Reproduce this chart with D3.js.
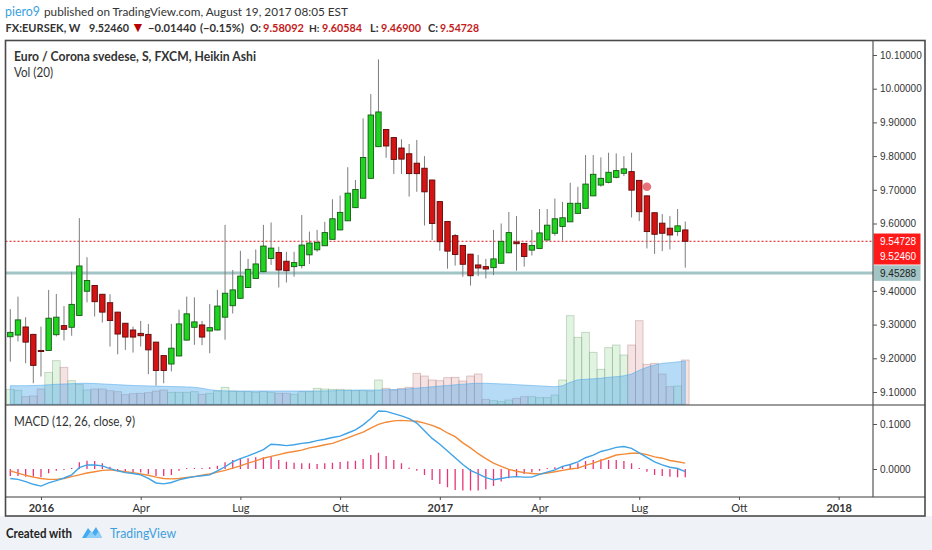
<!DOCTYPE html>
<html lang="en">
<head>
<meta charset="utf-8">
<title>FX:EURSEK weekly Heikin Ashi</title>
<script src="https://cdnjs.cloudflare.com/ajax/libs/d3/7.8.5/d3.min.js"></script>
<style>
  body { margin: 0; background: #fff; }
  svg { display: block; }
</style>
</head>
<body>
<script>
// weekly Heikin Ashi bars, Dec 7 2015 .. Aug 14 2017 (index 0..88)
var haOpen = [9.264,9.269,9.293,9.271,9.223,9.223,9.270,9.297,9.292,9.327,
  9.399,9.416,9.390,9.365,9.337,9.304,9.284,9.274,9.271,9.248,
  9.208,9.183,9.207,9.254,9.292,9.299,9.281,9.284,9.322,9.356,
  9.378,9.410,9.437,9.457,9.496,9.514,9.488,9.472,9.475,9.507,
  9.522,9.534,9.553,9.581,9.608,9.647,9.675,9.734,9.828,9.879,
  9.855,9.824,9.807,9.779,9.764,9.729,9.665,9.606,9.564,9.535,
  9.509,9.477,9.472,9.469,9.482,9.513,9.545,9.541,9.521,9.526,
  9.551,9.571,9.591,9.605,9.630,9.645,9.682,9.714,9.722,9.737,
  9.749,9.754,9.728,9.682,9.632,9.601,9.586,9.576,9.58092];
var haHigh = [9.346,9.383,9.322,9.273,9.294,9.403,9.391,9.355,9.457,9.616,
  9.500,9.417,9.391,9.390,9.338,9.305,9.294,9.311,9.302,9.249,
  9.209,9.302,9.344,9.383,9.381,9.311,9.361,9.403,9.596,9.462,
  9.519,9.495,9.523,9.596,9.603,9.531,9.516,9.516,9.625,9.576,
  9.581,9.605,9.672,9.683,9.767,9.729,9.912,9.984,10.087,9.880,
  9.856,9.850,9.836,9.848,9.800,9.730,9.666,9.607,9.569,9.536,
  9.510,9.507,9.495,9.581,9.600,9.634,9.622,9.542,9.581,9.643,
  9.643,9.674,9.664,9.721,9.709,9.803,9.803,9.796,9.810,9.808,
  9.800,9.810,9.729,9.683,9.633,9.628,9.622,9.643,9.60584];
var haLow = [9.190,9.250,9.185,9.126,9.146,9.222,9.265,9.253,9.267,9.326,
  9.366,9.324,9.306,9.235,9.212,9.225,9.217,9.235,9.153,9.119,
  9.126,9.161,9.206,9.253,9.240,9.239,9.215,9.283,9.255,9.333,
  9.377,9.409,9.436,9.456,9.477,9.410,9.425,9.442,9.467,9.480,
  9.516,9.533,9.552,9.580,9.607,9.646,9.674,9.733,9.827,9.795,
  9.747,9.747,9.680,9.694,9.594,9.551,9.519,9.466,9.475,9.442,
  9.416,9.444,9.437,9.447,9.481,9.512,9.460,9.472,9.505,9.525,
  9.550,9.564,9.549,9.604,9.629,9.644,9.681,9.709,9.719,9.734,
  9.741,9.618,9.607,9.526,9.510,9.518,9.523,9.563,9.46900];
var haClose = [9.277,9.314,9.248,9.179,9.220,9.319,9.322,9.286,9.360,9.474,
  9.431,9.368,9.337,9.312,9.272,9.263,9.263,9.267,9.225,9.164,
  9.164,9.230,9.302,9.332,9.308,9.263,9.291,9.355,9.393,9.403,
  9.444,9.464,9.480,9.533,9.527,9.462,9.460,9.484,9.536,9.542,
  9.544,9.573,9.614,9.633,9.690,9.701,9.796,9.922,9.931,9.830,
  9.790,9.791,9.748,9.748,9.694,9.600,9.546,9.518,9.508,9.479,
  9.445,9.468,9.465,9.495,9.547,9.573,9.540,9.502,9.535,9.572,
  9.595,9.614,9.617,9.660,9.660,9.717,9.746,9.734,9.752,9.757,
  9.762,9.699,9.635,9.576,9.568,9.571,9.566,9.593,9.54728];
var volume = [15,14,7.6,8.3,15.3,32,43.6,37,23.6,20,
  14.3,15.3,15.3,13.6,12.6,9.6,10.6,11,11.6,13.3,
  14.3,12,12,12,12.6,10,11,13.3,17,13.3,
  12.6,12.6,12,12.6,12,11,11,10,12.6,12.6,
  16,15.3,15,15,14.3,13.6,13.6,13.3,24.3,16,
  14.3,16,17,31,28.3,24.3,23.6,26.6,27,23.3,
  28.3,30.3,5,3.6,2.6,4.3,6,7.6,7.6,6.6,
  6.6,9.3,24.3,88.6,67,72,52,35,56.6,59.3,
  49.3,59.3,83.6,40,41,30.3,17.6,18.3,44.3];
var volMA = [18.6,18.6,18.6,18.8,19,19.5,20,20.3,20.6,21,
  21,20.8,20.4,20,19.6,19.2,18.8,18.6,18.4,18.2,
  18,17.8,17.6,17.4,17,16,14.6,13.8,13.4,13.3,
  13.3,13.3,13.3,13.3,13.3,13.3,13.3,13.3,13.3,13.3,
  13.3,13.4,13.6,13.8,14,14.2,14.3,14.3,14.3,14.5,
  14.7,15,15.5,16.2,16.8,17.5,18.2,18.8,19.5,20.1,
  20.7,21,21,20.7,20.4,20.1,19.6,19.2,18.8,18.4,
  18,17.6,18.5,22,24.5,25,25.5,26,27,27.6,
  28.5,30.3,34,37,39.3,41,41.6,42.4,43.3];
var macdLine = [-0.021,-0.023,-0.028,-0.034,-0.038,-0.031,-0.026,-0.020,-0.013,0.003,
  0.009,0.009,0.007,0.001,-0.004,-0.008,-0.010,-0.013,-0.021,-0.031,
  -0.033,-0.030,-0.024,-0.020,-0.017,-0.015,-0.013,-0.004,0.005,0.016,
  0.023,0.029,0.036,0.043,0.055,0.054,0.052,0.054,0.057,0.059,
  0.063,0.066,0.070,0.073,0.080,0.087,0.098,0.112,0.129,0.128,
  0.123,0.118,0.112,0.102,0.085,0.068,0.055,0.040,0.025,0.010,
  -0.003,-0.011,-0.019,-0.024,-0.021,-0.018,-0.017,-0.018,-0.018,-0.012,
  -0.007,-0.002,0.006,0.010,0.016,0.025,0.031,0.039,0.043,0.048,
  0.050,0.046,0.036,0.026,0.016,0.009,0.004,0.001,-0.006];
var signalLine = [-0.004,-0.009,-0.014,-0.018,-0.021,-0.023,-0.023,-0.021,-0.017,-0.013,
  -0.009,-0.006,-0.003,-0.002,-0.004,-0.006,-0.008,-0.011,-0.014,-0.018,
  -0.021,-0.022,-0.021,-0.019,-0.017,-0.014,-0.011,-0.007,-0.003,0.002,
  0.007,0.013,0.018,0.024,0.028,0.032,0.036,0.039,0.042,0.047,
  0.050,0.054,0.057,0.063,0.069,0.076,0.082,0.091,0.099,0.104,
  0.107,0.108,0.107,0.106,0.102,0.097,0.090,0.080,0.072,0.058,
  0.047,0.034,0.023,0.013,0.006,-0.001,-0.005,-0.008,-0.010,-0.011,
  -0.009,-0.006,-0.003,0.000,0.002,0.008,0.013,0.019,0.025,0.031,
  0.033,0.035,0.035,0.032,0.027,0.024,0.019,0.016,0.013];
var histogram = [-0.0156,-0.0156,-0.017,-0.017,-0.0185,-0.0096,-0.004,-0.002,0.0015,0.0148,
  0.0185,0.0178,0.0126,0.005,-0.002,-0.006,-0.0067,-0.008,-0.011,-0.0156,
  -0.0156,-0.0133,-0.004,0.0015,0.002,0.002,0.004,0.0074,0.0148,0.020,
  0.022,0.0237,0.026,0.026,0.0274,0.020,0.0163,0.014,0.0126,0.0126,
  0.011,0.0126,0.014,0.0155,0.017,0.0185,0.022,0.031,0.036,0.029,
  0.020,0.0126,0.003,-0.004,-0.0133,-0.0244,-0.0333,-0.0407,-0.0467,-0.048,
  -0.048,-0.048,-0.045,-0.0378,-0.028,-0.0207,-0.0156,-0.011,-0.008,-0.004,
  0,0.0037,0.0067,0.011,0.0126,0.0178,0.020,0.0215,0.020,0.020,
  0.0178,0.0126,0.0015,-0.006,-0.0133,-0.0156,-0.017,-0.0185,-0.0185];

var priceTicks = [9.1, 9.2, 9.3, 9.4, 9.6, 9.7, 9.8, 9.9, 10.0, 10.1];
var macdTicks = [0, 0.1];
var timeTickIdx = [4, 17, 30, 43, 56, 69, 82, 95, 108];
var timeTickLabels = ["2016", "Apr", "Lug", "Ott", "2017", "Apr", "Lug", "Ott", "2018"];

var lastHAClose = 9.54728;
var lastPrice = 9.52460;
var hLinePrice = 9.45288;
var markerIdx = 83, markerPrice = 9.709;

// layout
var W = 932, H = 550;
var frameL = 5.5, frameR = 925, frameT = 40.5, axisX = 873;
var paneBot = 405, macdBot = 497, timeBot = 516;

var svg = d3.select("body").append("svg")
  .attr("width", W).attr("height", H)
  .style("font-family", "Lato, 'Open Sans', sans-serif");

// footer background
svg.append("rect").attr("x", 0).attr("y", timeBot).attr("width", W).attr("height", H - timeBot)
  .attr("fill", "#eff2f6");

var x = d3.scaleLinear().domain([0, 108]).range([10.3, 10.3 + 108 * 7.67]);
var step = x(1) - x(0);
var y = d3.scaleLinear().domain([9.1, 10.1]).range([392, 55]);
var yVol = d3.scaleLinear().domain([0, 100]).range([404.3, 304.3]);
var yM = d3.scaleLinear().domain([0, 0.1]).range([469, 424]);

var defs = svg.append("defs");
defs.append("clipPath").attr("id", "pc").append("rect")
  .attr("x", frameL).attr("y", frameT).attr("width", axisX - frameL).attr("height", paneBot - frameT);
defs.append("clipPath").attr("id", "mc").append("rect")
  .attr("x", frameL).attr("y", paneBot).attr("width", axisX - frameL).attr("height", macdBot - paneBot);

var bars = haOpen.map(function(o, i) {
  return { i: i, o: o, h: haHigh[i], l: haLow[i], c: haClose[i], v: volume[i], up: haClose[i] >= o };
});

// ---- volume ----
var pane = svg.append("g").attr("clip-path", "url(#pc)");
pane.selectAll("rect.vol").data(bars).enter().append("rect")
  .attr("class", "vol")
  .attr("x", function(d) { return x(d.i) - step / 2; })
  .attr("y", function(d) { return yVol(d.v); })
  .attr("width", step)
  .attr("height", function(d) { return yVol(0) - yVol(d.v); })
  .attr("fill", function(d) { return d.up ? "rgba(120,200,120,0.22)" : "rgba(220,150,150,0.28)"; })
  .attr("stroke", function(d) { return d.up ? "rgba(120,160,120,0.45)" : "rgba(170,120,120,0.45)"; })
  .attr("stroke-width", 0.8);

var volArea = d3.area()
  .x(function(d, i) { return x(i); })
  .y0(yVol(0))
  .y1(function(d) { return yVol(d); });
pane.append("path").datum(volMA)
  .attr("d", volArea)
  .attr("fill", "rgba(80,170,235,0.42)")
  .attr("stroke", "rgba(80,170,235,0.55)")
  .attr("stroke-width", 1);

// ---- horizontal lines ----
pane.append("line")
  .attr("x1", frameL).attr("x2", axisX)
  .attr("y1", y(hLinePrice)).attr("y2", y(hLinePrice))
  .attr("stroke", "#a2c4c4").attr("stroke-width", 3);
pane.append("line")
  .attr("x1", frameL).attr("x2", axisX)
  .attr("y1", y(lastHAClose)).attr("y2", y(lastHAClose))
  .attr("stroke", "#e01010").attr("stroke-width", 1).attr("stroke-dasharray", "2,2");

// ---- candles ----
var bw = 5.4;
pane.selectAll("line.wick").data(bars).enter().append("line")
  .attr("class", "wick")
  .attr("x1", function(d) { return x(d.i); }).attr("x2", function(d) { return x(d.i); })
  .attr("y1", function(d) { return y(d.h); }).attr("y2", function(d) { return y(d.l); })
  .attr("stroke", "#7d7d7d").attr("stroke-width", 1);
pane.selectAll("rect.body").data(bars).enter().append("rect")
  .attr("class", "body")
  .attr("x", function(d) { return x(d.i) - bw / 2; })
  .attr("y", function(d) { return y(Math.max(d.o, d.c)); })
  .attr("width", bw)
  .attr("height", function(d) { return Math.max(1, Math.abs(y(d.o) - y(d.c))); })
  .attr("fill", function(d) { return d.up ? "#1fd41f" : "#d41414"; })
  .attr("stroke", function(d) { return d.up ? "#145a14" : "#5e0808"; })
  .attr("stroke-width", 0.9);

pane.append("circle")
  .attr("cx", x(markerIdx)).attr("cy", y(markerPrice)).attr("r", 4.3)
  .attr("fill", "#e5636b").attr("opacity", 0.9);

// ---- MACD ----
var mp = svg.append("g").attr("clip-path", "url(#mc)");
mp.selectAll("line.hist").data(histogram).enter().append("line")
  .attr("class", "hist")
  .attr("x1", function(d, i) { return x(i); }).attr("x2", function(d, i) { return x(i); })
  .attr("y1", yM(0))
  .attr("y2", function(d) {
    var yy = yM(d);
    return Math.abs(yy - yM(0)) < 1 ? yM(0) - (d >= 0 ? 1 : -1) : yy;
  })
  .attr("stroke", "#e8337a").attr("stroke-width", 1.3);

var mline = d3.line().x(function(d, i) { return x(i); }).y(function(d) { return yM(d); });
mp.append("path").datum(signalLine).attr("d", mline)
  .attr("fill", "none").attr("stroke", "#f28a38").attr("stroke-width", 1.4);
mp.append("path").datum(macdLine).attr("d", mline)
  .attr("fill", "none").attr("stroke", "#3fa3e6").attr("stroke-width", 1.4);

// ---- axes ----
function styleAxis(g) {
  g.select(".domain").remove();
  g.selectAll(".tick line").attr("stroke", "#555");
  g.selectAll(".tick text").attr("fill", "#333")
    .style("font-family", "'Liberation Sans', Arial, sans-serif").style("font-size", "10px");
}
svg.append("g").attr("transform", "translate(" + axisX + ",0)")
  .call(d3.axisRight(y).tickValues(priceTicks).tickSize(4).tickPadding(3).tickFormat(d3.format(".5f")))
  .call(styleAxis);
svg.append("g").attr("transform", "translate(" + axisX + ",0)")
  .call(d3.axisRight(yM).tickValues(macdTicks).tickSize(4).tickPadding(3).tickFormat(d3.format(".4f")))
  .call(styleAxis);
var tx = svg.append("g").attr("transform", "translate(0," + macdBot + ")")
  .call(d3.axisBottom(x).tickValues(timeTickIdx).tickSize(3).tickPadding(4)
    .tickFormat(function(d, i) { return timeTickLabels[i]; }));
tx.select(".domain").remove();
tx.selectAll(".tick line").attr("stroke", "#555");
tx.selectAll(".tick text").attr("fill", "#333")
  .style("font-family", "Lato, sans-serif").style("font-size", "11px")
  .style("font-weight", function(d, i) { return /^\d{4}$/.test(timeTickLabels[i]) ? "bold" : "normal"; });

// ---- price labels on the axis ----
var lblH = 15.5;
var c1 = y(lastHAClose);
var c2 = Math.max(y(lastPrice), c1 + lblH);
var c3 = y(hLinePrice);
var labels = [
  { cy: c1, text: d3.format(".5f")(lastHAClose), bg: "#ff1a1a", fg: "#fff" },
  { cy: c2, text: d3.format(".5f")(lastPrice), bg: "#ff1a1a", fg: "#fff" },
  { cy: c3, text: d3.format(".5f")(hLinePrice), bg: "#a2c4c4", fg: "#222" }
];
var lg = svg.selectAll("g.plbl").data(labels).enter().append("g").attr("class", "plbl");
lg.append("rect")
  .attr("x", axisX + 0.5).attr("y", function(d) { return d.cy - lblH / 2; })
  .attr("width", 47).attr("height", lblH)
  .attr("fill", function(d) { return d.bg; });
lg.append("text")
  .attr("x", axisX + 7).attr("y", function(d) { return d.cy; }).attr("dy", "0.36em")
  .attr("fill", function(d) { return d.fg; })
  .style("font-family", "'Liberation Sans', Arial, sans-serif").style("font-size", "10px")
  .text(function(d) { return d.text; });

// ---- frame ----
svg.append("rect").attr("x", frameL).attr("y", frameT)
  .attr("width", frameR - frameL).attr("height", timeBot - frameT)
  .attr("fill", "none").attr("stroke", "#4a4a4a").attr("stroke-width", 1.6);
[paneBot, macdBot].forEach(function(yy) {
  svg.append("line").attr("x1", frameL).attr("x2", frameR).attr("y1", yy).attr("y2", yy)
    .attr("stroke", "#3a3a3a").attr("stroke-width", 1.2);
});
svg.append("line").attr("x1", axisX).attr("x2", axisX).attr("y1", frameT).attr("y2", macdBot)
  .attr("stroke", "#555").attr("stroke-width", 1.2);

// ---- header texts: each piece sits where the reference has it, font shrunk to fit ----
function fitText(sel, maxFs) {
  sel.each(function(d) {
    var natural = this.getComputedTextLength();
    var fs = Math.min(maxFs, maxFs * d[2] / natural);
    d3.select(this).style("font-size", fs.toFixed(2) + "px");
  });
}
var byline = [
  ["piero9", 5, 35, "#3d9fe0"],
  ["published on TradingView.com, August 19, 2017 08:05 EST", 44, 304, "#333"]
];
svg.selectAll("text.byline").data(byline).enter().append("text")
  .attr("class", "byline")
  .attr("x", function(d) { return d[1]; }).attr("y", 16)
  .style("font-size", "14px")
  .attr("fill", function(d) { return d[3]; })
  .text(function(d) { return d[0]; })
  .call(fitText, 14);

var quote = [
  ["FX:EURSEK, W", 5.5, 75, "#333"],
  ["9.52460", 89, 40, "#333"],
  ["\u25bc", 131, 15.5, "#b80000"],
  ["\u22120.01440", 148, 48, "#333"],
  ["(\u22120.15%)", 200, 44, "#333"],
  ["O:", 250, 11, "#333"],
  ["9.58092", 263, 41, "#c41c1c"],
  ["H:", 309, 10.5, "#333"],
  ["9.60584", 322, 40, "#c41c1c"],
  ["L:", 370, 8.5, "#333"],
  ["9.46900", 381, 40, "#c41c1c"],
  ["C:", 428, 10, "#333"],
  ["9.54728", 440, 39, "#c41c1c"]
];
svg.selectAll("text.quote").data(quote).enter().append("text")
  .attr("class", "quote")
  .attr("x", function(d) { return d[1]; }).attr("y", 32)
  .style("font-size", "14px")
  .style("font-weight", "bold")
  .attr("fill", function(d) { return d[3]; })
  .text(function(d) { return d[0]; })
  .call(fitText, 14);

svg.append("text").attr("x", 14).attr("y", 61)
  .attr("textLength", 242).attr("lengthAdjust", "spacingAndGlyphs")
  .style("font-size", "13.5px").style("font-weight", "bold").attr("fill", "#333")
  .text("Euro / Corona svedese, S, FXCM, Heikin Ashi");
svg.append("text").attr("x", 14).attr("y", 77)
  .attr("textLength", 39).attr("lengthAdjust", "spacingAndGlyphs")
  .style("font-size", "13.5px").attr("fill", "#333")
  .text("Vol (20)");
svg.append("text").attr("x", 14).attr("y", 426)
  .attr("textLength", 121).attr("lengthAdjust", "spacingAndGlyphs")
  .style("font-size", "13.5px").attr("fill", "#333")
  .text("MACD (12, 26, close, 9)");

// ---- footer ----
svg.append("text").attr("x", 6).attr("y", 538)
  .attr("textLength", 66).attr("lengthAdjust", "spacingAndGlyphs")
  .style("font-size", "14px").style("font-weight", "bold").attr("fill", "#222")
  .text("Created with");
var logo = svg.append("g");
logo.append("path")
  .attr("d", "M82,538 L88,528 L92,533 L96,527 L102,538 Z")
  .attr("fill", "#45aaf0");
logo.append("path")
  .attr("d", "M86,538 L91,531 L95,536 L99,531 L102,538 Z")
  .attr("fill", "#8fcff7");
svg.append("text").attr("x", 110).attr("y", 538)
  .attr("textLength", 66).attr("lengthAdjust", "spacingAndGlyphs")
  .style("font-size", "14px").attr("fill", "#3d9fe0")
  .text("TradingView");
</script>
</body>
</html>
